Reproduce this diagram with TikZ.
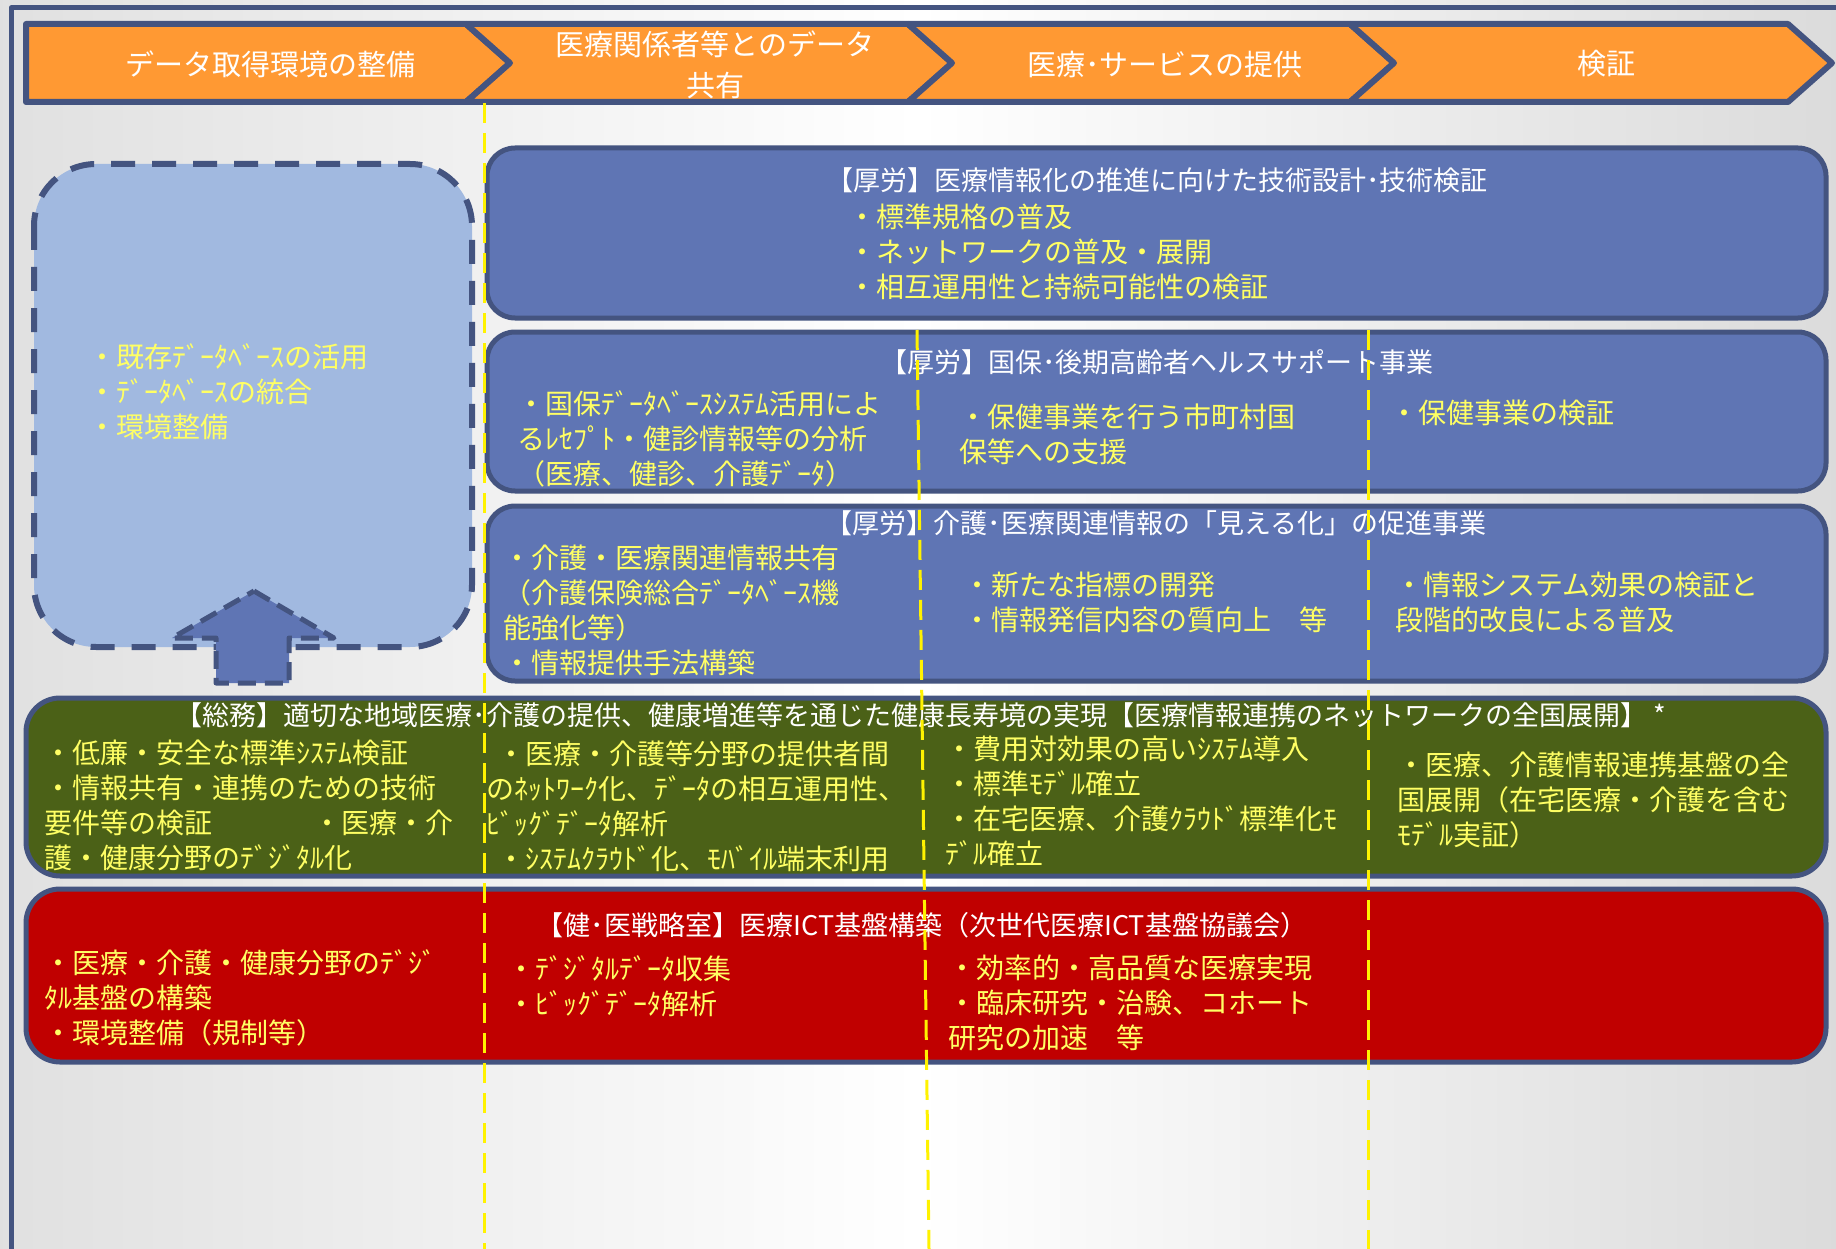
\documentclass[tikz,border=0pt]{standalone}
\usepackage{fontspec}
\setmainfont{Noto Sans CJK JP}
\usepackage{tikz}
\definecolor{navy}{RGB}{68,84,128}
\definecolor{chevorange}{RGB}{255,153,51}
\definecolor{boxblue}{RGB}{95,117,180}
\definecolor{paleblue}{RGB}{161,185,224}
\definecolor{greenbox}{RGB}{75,97,23}
\definecolor{redbox}{RGB}{192,0,0}
\definecolor{textyellow}{RGB}{255,255,100}

\begin{document}
\begin{tikzpicture}[x=1pt, y=-1pt, line join=round,
  chev/.style={draw=navy, line width=6pt, fill=chevorange},
  chevtext/.style={text=white, font=\fontsize{29}{41}\selectfont, align=center},
  panel/.style={draw=navy, line width=5pt, rounded corners=28pt},
  headtext/.style={text=white, font=\fontsize{27}{35}\selectfont},
  bullets/.style={text=textyellow, font=\fontsize{28}{35}\selectfont, align=left, anchor=north west, inner sep=0pt},
  guide/.style={draw=yellow, line width=3pt, dash pattern=on 20pt off 10pt}]
  \useasboundingbox (0,0) rectangle (1836,1249);
  \shade[left color=black!12, right color=black!14, middle color=white] (0,0) rectangle (1836,1249);
  \draw[navy, line width=5pt] (11,1249) -- (11,8) -- (1836,8);
  \draw[chev] (26,24) -- (466,24) -- (510,63) -- (466,102) -- (26,102) -- cycle;
  \draw[chev] (466,24) -- (908,24) -- (952,63) -- (908,102) -- (466,102) -- (510,63) -- cycle;
  \draw[chev] (908,24) -- (1350,24) -- (1394,63) -- (1350,102) -- (908,102) -- (952,63) -- cycle;
  \draw[chev] (1350,24) -- (1788,24) -- (1832,63) -- (1788,102) -- (1350,102) -- (1394,63) -- cycle;
  \node[chevtext] (stage1) at (270,64) {データ取得環境の整備};
  \node[chevtext] (stage2) at (715,65) {医療関係者等とのデータ\\共有};
  \node[chevtext] (stage3) at (1165,64) {医療･サービスの提供};
  \node[chevtext] (stage4) at (1606,64) {検証};
  \draw[draw=navy, line width=6pt, fill=paleblue, rounded corners=62pt, dash pattern=on 24pt off 17pt] (34,164) rectangle (472,647);
  \draw[draw=navy, line width=5pt, fill=boxblue, dash pattern=on 18pt off 9pt] (254,591) -- (334,638) -- (289,638) -- (289,683) -- (216,683) -- (216,638) -- (172,638) -- cycle;
  \node[bullets] (dbuse) at (88,343) {・既存ﾃﾞｰﾀﾍﾞｰｽの活用\\・ﾃﾞｰﾀﾍﾞｰｽの統合\\・環境整備};
  \draw[panel, fill=boxblue] (487,148) rectangle (1826,318);
  \node[headtext] (mhlwtech) at (1157,180) {【厚労】医療情報化の推進に向けた技術設計･技術検証};
  \node[bullets] (techlist) at (848,204) {・標準規格の普及\\・ネットワークの普及・展開\\・相互運用性と持続可能性の検証};
  \draw[panel, fill=boxblue] (487,332) rectangle (1826,491);
  \node[headtext] (kokuho) at (1157,362) {【厚労】国保･後期高齢者ヘルスサポート事業};
  \node[bullets] (kokuhoA) at (517,390) {・国保ﾃﾞｰﾀﾍﾞｰｽｼｽﾃﾑ活用によ\\るﾚｾﾌﾟﾄ・健診情報等の分析\\（医療、健診、介護ﾃﾞｰﾀ）};
  \node[bullets] (kokuhoB) at (959,404) {・保健事業を行う市町村国\\保等への支援};
  \node[bullets] (kokuhoC) at (1390,400) {・保健事業の検証};
  \draw[panel, fill=boxblue] (487,506) rectangle (1826,681);
  \node[headtext] (mieruka) at (1156,523) {【厚労】介護･医療関連情報の「見える化」の促進事業};
  \node[bullets] (mierukaA) at (503,545) {・介護・医療関連情報共有\\（介護保険総合ﾃﾞｰﾀﾍﾞｰｽ機\\能強化等）\\・情報提供手法構築};
  \node[bullets] (mierukaB) at (963,572) {・新たな指標の開発\\・情報発信内容の質向上　等};
  \node[bullets] (mierukaC) at (1395,572) {・情報システム効果の検証と\\段階的改良による普及};
  \draw[panel, fill=greenbox, rounded corners=34pt] (26,698) rectangle (1826,876);
  \node[headtext] (soumu) at (921,715) {【総務】適切な地域医療･介護の提供、健康増進等を通じた健康長寿境の実現【医療情報連携のネットワークの全国展開】 *};
  \node[bullets] (soumuA) at (44,740) {・低廉・安全な標準ｼｽﾃﾑ検証\\・情報共有・連携のための技術\\要件等の検証\hspace{3.6em}・医療・介\\護・健康分野のﾃﾞｼﾞﾀﾙ化};
  \node[bullets] (soumuB) at (486,741) {\hspace*{0.4em}・医療・介護等分野の提供者間\\のﾈｯﾄﾜｰｸ化、ﾃﾞｰﾀの相互運用性、\\ﾋﾞｯｸﾞﾃﾞｰﾀ解析\\\hspace*{0.4em}・ｼｽﾃﾑｸﾗｳﾄﾞ化、ﾓﾊﾞｲﾙ端末利用};
  \node[bullets] (soumuC) at (945,736) {・費用対効果の高いｼｽﾃﾑ導入\\・標準ﾓﾃﾞﾙ確立\\・在宅医療、介護ｸﾗｳﾄﾞ標準化ﾓ\\ﾃﾞﾙ確立};
  \node[bullets] (soumuD) at (1397,752) {・医療、介護情報連携基盤の全\\国展開（在宅医療・介護を含む\\ﾓﾃﾞﾙ実証）};
  \draw[panel, fill=redbox, rounded corners=34pt] (26,889) rectangle (1826,1062);
  \node[headtext] (kenisen) at (922,925) {【健･医戦略室】医療ICT基盤構築（次世代医療ICT基盤協議会）};
  \node[bullets] (kenisenA) at (44,949) {・医療・介護・健康分野のﾃﾞｼﾞ\\ﾀﾙ基盤の構築\\・環境整備（規制等）};
  \node[bullets] (kenisenB) at (507,955) {・ﾃﾞｼﾞﾀﾙﾃﾞｰﾀ収集\\・ﾋﾞｯｸﾞﾃﾞｰﾀ解析};
  \node[bullets] (kenisenC) at (948,955) {・効率的・高品質な医療実現\\・臨床研究・治験、コホート\\研究の加速　等};
  \draw[guide] (484,103) -- (484,1249);
  \draw[guide] (917,330) -- (929,1249);
  \draw[guide] (1368,330) -- (1368,1249);
\end{tikzpicture}
\end{document}
